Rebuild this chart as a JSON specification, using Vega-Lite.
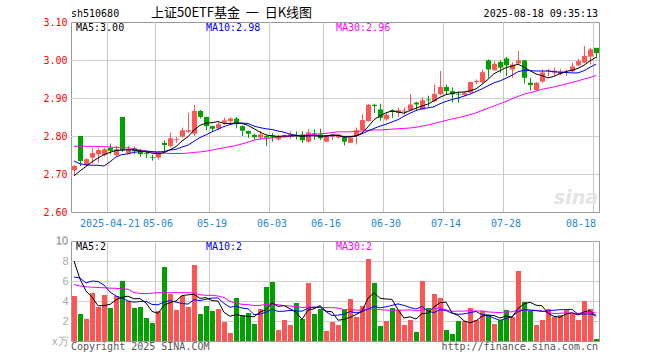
{
"$schema":"https://vega.github.io/schema/vega-lite/v6.json",
"background":"white",
"autosize":{"type":"pad"},
"padding":{"left":33,"top":2,"right":4,"bottom":4},
"bounds":"flush",
"spacing":29,
"config":{"view":{"stroke":"#999","strokeWidth":1},"font":"DejaVu Sans Mono"},
"datasets":{"k":[
{"d":"2025-04-11","o":2.710,"c":2.721,"h":2.724,"l":2.695,"v":4.5,"m5":2.695,"m10":2.734,"m30":2.773,"vm5":8.0,"vm10":6.4,"vm30":5.65},
{"d":"2025-04-14","o":2.800,"c":2.734,"h":2.800,"l":2.721,"v":2.7,"m5":2.708,"m10":2.727,"m30":2.773,"vm5":6.2,"vm10":6.3,"vm30":5.50},
{"d":"2025-04-15","o":2.724,"c":2.739,"h":2.741,"l":2.720,"v":2.2,"m5":2.720,"m10":2.724,"m30":2.773,"vm5":5.0,"vm10":5.8,"vm30":5.42},
{"d":"2025-04-16","o":2.743,"c":2.755,"h":2.768,"l":2.727,"v":4.8,"m5":2.732,"m10":2.723,"m30":2.773,"vm5":4.4,"vm10":6.0,"vm30":5.38},
{"d":"2025-04-17","o":2.752,"c":2.763,"h":2.768,"l":2.730,"v":3.4,"m5":2.742,"m10":2.723,"m30":2.772,"vm5":3.52,"vm10":5.95,"vm30":5.35},
{"d":"2025-04-18","o":2.750,"c":2.765,"h":2.769,"l":2.746,"v":4.6,"m5":2.751,"m10":2.721,"m30":2.772,"vm5":3.54,"vm10":5.6,"vm30":5.32},
{"d":"2025-04-21","o":2.769,"c":2.761,"h":2.780,"l":2.752,"v":3.3,"m5":2.757,"m10":2.732,"m30":2.771,"vm5":3.66,"vm10":4.9,"vm30":5.28},
{"d":"2025-04-22","o":2.750,"c":2.765,"h":2.774,"l":2.747,"v":4.5,"m5":2.762,"m10":2.745,"m30":2.770,"vm5":4.12,"vm10":4.5,"vm30":5.27},
{"d":"2025-04-23","o":2.850,"c":2.762,"h":2.850,"l":2.758,"v":6.0,"m5":2.763,"m10":2.751,"m30":2.769,"vm5":4.36,"vm10":4.3,"vm30":5.22},
{"d":"2025-04-24","o":2.754,"c":2.765,"h":2.774,"l":2.752,"v":4.0,"m5":2.764,"m10":2.753,"m30":2.769,"vm5":4.48,"vm10":4.00,"vm30":5.17},
{"d":"2025-04-25","o":2.768,"c":2.760,"h":2.772,"l":2.752,"v":3.3,"m5":2.763,"m10":2.757,"m30":2.766,"vm5":4.22,"vm10":3.88,"vm30":4.85},
{"d":"2025-04-28","o":2.762,"c":2.752,"h":2.766,"l":2.745,"v":3.4,"m5":2.761,"m10":2.759,"m30":2.763,"vm5":4.24,"vm10":3.95,"vm30":4.75},
{"d":"2025-04-29","o":2.755,"c":2.753,"h":2.758,"l":2.742,"v":2.3,"m5":2.758,"m10":2.760,"m30":2.761,"vm5":3.80,"vm10":3.96,"vm30":4.73},
{"d":"2025-04-30","o":2.745,"c":2.743,"h":2.751,"l":2.735,"v":1.8,"m5":2.755,"m10":2.759,"m30":2.758,"vm5":2.96,"vm10":3.66,"vm30":4.78},
{"d":"2025-05-06","o":2.743,"c":2.756,"h":2.760,"l":2.738,"v":3.0,"m5":2.753,"m10":2.758,"m30":2.756,"vm5":2.76,"vm10":3.62,"vm30":4.83},
{"d":"2025-05-07","o":2.782,"c":2.776,"h":2.789,"l":2.760,"v":7.4,"m5":2.756,"m10":2.759,"m30":2.755,"vm5":3.58,"vm10":3.90,"vm30":4.83},
{"d":"2025-05-08","o":2.774,"c":2.794,"h":2.809,"l":2.770,"v":4.7,"m5":2.764,"m10":2.763,"m30":2.754,"vm5":3.84,"vm10":4.04,"vm30":4.83},
{"d":"2025-05-09","o":2.790,"c":2.792,"h":2.797,"l":2.782,"v":3.1,"m5":2.772,"m10":2.765,"m30":2.754,"vm5":4.00,"vm10":3.90,"vm30":4.83},
{"d":"2025-05-12","o":2.798,"c":2.815,"h":2.822,"l":2.796,"v":4.5,"m5":2.787,"m10":2.771,"m30":2.754,"vm5":4.54,"vm10":3.75,"vm30":4.83},
{"d":"2025-05-13","o":2.811,"c":2.815,"h":2.861,"l":2.808,"v":3.4,"m5":2.798,"m10":2.776,"m30":2.755,"vm5":4.62,"vm10":3.69,"vm30":4.83},
{"d":"2025-05-14","o":2.806,"c":2.866,"h":2.882,"l":2.800,"v":7.6,"m5":2.816,"m10":2.786,"m30":2.757,"vm5":4.66,"vm10":4.12,"vm30":4.80},
{"d":"2025-05-15","o":2.866,"c":2.850,"h":2.868,"l":2.846,"v":2.7,"m5":2.828,"m10":2.796,"m30":2.758,"vm5":4.26,"vm10":4.05,"vm30":4.62},
{"d":"2025-05-16","o":2.850,"c":2.826,"h":2.851,"l":2.815,"v":3.5,"m5":2.834,"m10":2.803,"m30":2.760,"vm5":4.34,"vm10":4.17,"vm30":4.57},
{"d":"2025-05-19","o":2.826,"c":2.819,"h":2.827,"l":2.812,"v":3.0,"m5":2.835,"m10":2.811,"m30":2.763,"vm5":4.04,"vm10":4.29,"vm30":4.57},
{"d":"2025-05-20","o":2.820,"c":2.831,"h":2.836,"l":2.815,"v":3.2,"m5":2.838,"m10":2.818,"m30":2.766,"vm5":4.00,"vm10":4.31,"vm30":4.50},
{"d":"2025-05-21","o":2.835,"c":2.841,"h":2.848,"l":2.830,"v":1.9,"m5":2.833,"m10":2.825,"m30":2.769,"vm5":2.86,"vm10":3.76,"vm30":4.35},
{"d":"2025-05-22","o":2.839,"c":2.846,"h":2.849,"l":2.830,"v":0.8,"m5":2.833,"m10":2.830,"m30":2.772,"vm5":2.48,"vm10":3.37,"vm30":3.95},
{"d":"2025-05-23","o":2.846,"c":2.831,"h":2.850,"l":2.820,"v":4.3,"m5":2.834,"m10":2.834,"m30":2.775,"vm5":2.64,"vm10":3.49,"vm30":3.80},
{"d":"2025-05-26","o":2.826,"c":2.814,"h":2.828,"l":2.800,"v":2.5,"m5":2.833,"m10":2.834,"m30":2.779,"vm5":2.54,"vm10":3.29,"vm30":3.67},
{"d":"2025-05-27","o":2.813,"c":2.806,"h":2.814,"l":2.795,"v":2.8,"m5":2.828,"m10":2.833,"m30":2.784,"vm5":2.46,"vm10":3.23,"vm30":3.64},
{"d":"2025-05-28","o":2.803,"c":2.797,"h":2.806,"l":2.791,"v":1.7,"m5":2.819,"m10":2.826,"m30":2.789,"vm5":2.42,"vm10":2.64,"vm30":3.55},
{"d":"2025-05-29","o":2.796,"c":2.804,"h":2.814,"l":2.790,"v":3.2,"m5":2.810,"m10":2.822,"m30":2.792,"vm5":2.90,"vm10":2.69,"vm30":3.56},
{"d":"2025-05-30","o":2.800,"c":2.796,"h":2.802,"l":2.774,"v":5.4,"m5":2.803,"m10":2.819,"m30":2.794,"vm5":3.12,"vm10":2.88,"vm30":3.67},
{"d":"2025-06-03","o":2.802,"c":2.799,"h":2.808,"l":2.785,"v":5.9,"m5":2.800,"m10":2.817,"m30":2.795,"vm5":3.80,"vm10":3.17,"vm30":3.71},
{"d":"2025-06-04","o":2.791,"c":2.800,"h":2.803,"l":2.788,"v":1.1,"m5":2.799,"m10":2.813,"m30":2.797,"vm5":3.46,"vm10":2.96,"vm30":3.63},
{"d":"2025-06-05","o":2.797,"c":2.802,"h":2.804,"l":2.795,"v":2.1,"m5":2.800,"m10":2.810,"m30":2.798,"vm5":3.54,"vm10":2.98,"vm30":3.55},
{"d":"2025-06-06","o":2.798,"c":2.804,"h":2.812,"l":2.793,"v":1.6,"m5":2.800,"m10":2.805,"m30":2.799,"vm5":3.22,"vm10":3.06,"vm30":3.49},
{"d":"2025-06-09","o":2.803,"c":2.799,"h":2.812,"l":2.791,"v":3.8,"m5":2.801,"m10":2.802,"m30":2.801,"vm5":2.90,"vm10":3.01,"vm30":3.47},
{"d":"2025-06-10","o":2.804,"c":2.789,"h":2.813,"l":2.782,"v":2.2,"m5":2.799,"m10":2.800,"m30":2.801,"vm5":2.16,"vm10":2.98,"vm30":3.34},
{"d":"2025-06-11","o":2.785,"c":2.809,"h":2.818,"l":2.782,"v":5.8,"m5":2.801,"m10":2.800,"m30":2.803,"vm5":3.10,"vm10":3.28,"vm30":3.40},
{"d":"2025-06-12","o":2.808,"c":2.806,"h":2.818,"l":2.790,"v":2.7,"m5":2.801,"m10":2.801,"m30":2.804,"vm5":3.22,"vm10":3.38,"vm30":3.38},
{"d":"2025-06-13","o":2.804,"c":2.794,"h":2.819,"l":2.789,"v":3.2,"m5":2.799,"m10":2.800,"m30":2.806,"vm5":3.54,"vm10":3.38,"vm30":3.37},
{"d":"2025-06-16","o":2.785,"c":2.802,"h":2.803,"l":2.784,"v":1.0,"m5":2.800,"m10":2.800,"m30":2.807,"vm5":2.98,"vm10":2.94,"vm30":3.33},
{"d":"2025-06-17","o":2.798,"c":2.802,"h":2.804,"l":2.790,"v":1.9,"m5":2.803,"m10":2.801,"m30":2.809,"vm5":2.92,"vm10":2.54,"vm30":3.33},
{"d":"2025-06-18","o":2.796,"c":2.804,"h":2.806,"l":2.793,"v":1.6,"m5":2.802,"m10":2.801,"m30":2.811,"vm5":2.08,"vm10":2.59,"vm30":3.29},
{"d":"2025-06-19","o":2.797,"c":2.785,"h":2.800,"l":2.775,"v":3.1,"m5":2.797,"m10":2.799,"m30":2.811,"vm5":2.16,"vm10":2.69,"vm30":3.14},
{"d":"2025-06-20","o":2.782,"c":2.796,"h":2.800,"l":2.782,"v":4.2,"m5":2.798,"m10":2.799,"m30":2.811,"vm5":2.36,"vm10":2.95,"vm30":3.13},
{"d":"2025-06-23","o":2.800,"c":2.815,"h":2.822,"l":2.778,"v":2.4,"m5":2.800,"m10":2.800,"m30":2.812,"vm5":2.64,"vm10":2.81,"vm30":3.10},
{"d":"2025-06-24","o":2.815,"c":2.842,"h":2.857,"l":2.813,"v":3.5,"m5":2.808,"m10":2.806,"m30":2.813,"vm5":2.96,"vm10":2.94,"vm30":3.07},
{"d":"2025-06-25","o":2.839,"c":2.882,"h":2.884,"l":2.838,"v":8.2,"m5":2.824,"m10":2.813,"m30":2.815,"vm5":4.28,"vm10":3.18,"vm30":3.23},
{"d":"2025-06-26","o":2.882,"c":2.879,"h":2.885,"l":2.860,"v":5.8,"m5":2.843,"m10":2.820,"m30":2.816,"vm5":4.82,"vm10":3.49,"vm30":3.17},
{"d":"2025-06-27","o":2.870,"c":2.848,"h":2.885,"l":2.840,"v":1.5,"m5":2.853,"m10":2.826,"m30":2.816,"vm5":4.28,"vm10":3.32,"vm30":3.13},
{"d":"2025-06-30","o":2.844,"c":2.856,"h":2.862,"l":2.840,"v":2.0,"m5":2.861,"m10":2.831,"m30":2.817,"vm5":4.20,"vm10":3.42,"vm30":3.08},
{"d":"2025-07-01","o":2.868,"c":2.863,"h":2.870,"l":2.848,"v":3.3,"m5":2.866,"m10":2.837,"m30":2.818,"vm5":4.16,"vm10":3.56,"vm30":3.09},
{"d":"2025-07-02","o":2.861,"c":2.868,"h":2.875,"l":2.850,"v":3.1,"m5":2.863,"m10":2.843,"m30":2.819,"vm5":3.14,"vm10":3.71,"vm30":3.09},
{"d":"2025-07-03","o":2.864,"c":2.867,"h":2.875,"l":2.856,"v":1.6,"m5":2.860,"m10":2.852,"m30":2.820,"vm5":2.30,"vm10":3.56,"vm30":3.08},
{"d":"2025-07-04","o":2.868,"c":2.883,"h":2.910,"l":2.866,"v":2.1,"m5":2.867,"m10":2.860,"m30":2.821,"vm5":2.42,"vm10":3.35,"vm30":3.12},
{"d":"2025-07-07","o":2.888,"c":2.883,"h":2.890,"l":2.868,"v":0.9,"m5":2.873,"m10":2.867,"m30":2.823,"vm5":2.20,"vm10":3.20,"vm30":3.01},
{"d":"2025-07-08","o":2.870,"c":2.894,"h":2.902,"l":2.868,"v":6.0,"m5":2.879,"m10":2.872,"m30":2.826,"vm5":2.74,"vm10":3.45,"vm30":3.12},
{"d":"2025-07-09","o":2.896,"c":2.894,"h":2.906,"l":2.877,"v":3.3,"m5":2.884,"m10":2.874,"m30":2.829,"vm5":2.78,"vm10":2.96,"vm30":3.14},
{"d":"2025-07-10","o":2.892,"c":2.911,"h":2.936,"l":2.888,"v":4.7,"m5":2.893,"m10":2.877,"m30":2.833,"vm5":3.40,"vm10":2.85,"vm30":3.24},
{"d":"2025-07-11","o":2.910,"c":2.929,"h":2.971,"l":2.908,"v":4.3,"m5":2.902,"m10":2.885,"m30":2.837,"vm5":3.84,"vm10":3.13,"vm30":3.28},
{"d":"2025-07-14","o":2.929,"c":2.918,"h":2.935,"l":2.910,"v":1.1,"m5":2.909,"m10":2.891,"m30":2.841,"vm5":3.88,"vm10":3.04,"vm30":3.13},
{"d":"2025-07-15","o":2.918,"c":2.910,"h":2.928,"l":2.888,"v":0.7,"m5":2.912,"m10":2.896,"m30":2.845,"vm5":2.82,"vm10":2.78,"vm30":2.96},
{"d":"2025-07-16","o":2.911,"c":2.909,"h":2.917,"l":2.888,"v":2.0,"m5":2.915,"m10":2.900,"m30":2.848,"vm5":2.56,"vm10":2.67,"vm30":2.99},
{"d":"2025-07-17","o":2.908,"c":2.914,"h":2.916,"l":2.906,"v":2.0,"m5":2.916,"m10":2.905,"m30":2.852,"vm5":2.02,"vm10":2.71,"vm30":2.99},
{"d":"2025-07-18","o":2.914,"c":2.942,"h":2.943,"l":2.912,"v":3.3,"m5":2.919,"m10":2.910,"m30":2.856,"vm5":1.82,"vm10":2.83,"vm30":3.04},
{"d":"2025-07-21","o":2.942,"c":2.945,"h":2.949,"l":2.937,"v":2.1,"m5":2.924,"m10":2.917,"m30":2.861,"vm5":2.02,"vm10":2.95,"vm30":2.99},
{"d":"2025-07-22","o":2.942,"c":2.968,"h":2.975,"l":2.938,"v":3.0,"m5":2.936,"m10":2.924,"m30":2.867,"vm5":2.48,"vm10":2.65,"vm30":3.01},
{"d":"2025-07-23","o":2.999,"c":2.975,"h":3.002,"l":2.953,"v":2.6,"m5":2.949,"m10":2.932,"m30":2.873,"vm5":2.60,"vm10":2.58,"vm30":2.91},
{"d":"2025-07-24","o":2.973,"c":2.990,"h":2.997,"l":2.972,"v":1.7,"m5":2.964,"m10":2.940,"m30":2.879,"vm5":2.54,"vm10":2.28,"vm30":2.87},
{"d":"2025-07-25","o":2.995,"c":2.980,"h":3.000,"l":2.966,"v":2.1,"m5":2.972,"m10":2.945,"m30":2.885,"vm5":2.30,"vm10":2.06,"vm30":2.84},
{"d":"2025-07-28","o":3.004,"c":2.986,"h":3.008,"l":2.958,"v":3.1,"m5":2.980,"m10":2.952,"m30":2.891,"vm5":2.50,"vm10":2.26,"vm30":2.91},
{"d":"2025-07-29","o":2.975,"c":2.988,"h":2.994,"l":2.953,"v":2.4,"m5":2.984,"m10":2.960,"m30":2.898,"vm5":2.38,"vm10":2.43,"vm30":2.92},
{"d":"2025-07-30","o":2.991,"c":2.999,"h":3.024,"l":2.990,"v":7.0,"m5":2.989,"m10":2.969,"m30":2.904,"vm5":3.26,"vm10":2.93,"vm30":3.10},
{"d":"2025-07-31","o":2.999,"c":2.953,"h":3.000,"l":2.938,"v":3.9,"m5":2.981,"m10":2.973,"m30":2.910,"vm5":3.70,"vm10":3.12,"vm30":3.13},
{"d":"2025-08-01","o":2.940,"c":2.934,"h":2.953,"l":2.920,"v":3.0,"m5":2.972,"m10":2.972,"m30":2.914,"vm5":3.88,"vm10":3.09,"vm30":3.09},
{"d":"2025-08-04","o":2.921,"c":2.940,"h":2.942,"l":2.919,"v":1.6,"m5":2.963,"m10":2.971,"m30":2.918,"vm5":3.58,"vm10":3.04,"vm30":3.06},
{"d":"2025-08-05","o":2.943,"c":2.967,"h":2.975,"l":2.940,"v":2.1,"m5":2.959,"m10":2.971,"m30":2.923,"vm5":3.52,"vm10":2.95,"vm30":3.02},
{"d":"2025-08-06","o":2.970,"c":2.973,"h":2.977,"l":2.958,"v":3.2,"m5":2.953,"m10":2.971,"m30":2.926,"vm5":2.76,"vm10":3.01,"vm30":2.85},
{"d":"2025-08-07","o":2.967,"c":2.972,"h":2.980,"l":2.958,"v":2.4,"m5":2.957,"m10":2.969,"m30":2.929,"vm5":2.46,"vm10":3.08,"vm30":2.74},
{"d":"2025-08-08","o":2.963,"c":2.970,"h":2.977,"l":2.960,"v":2.6,"m5":2.964,"m10":2.968,"m30":2.933,"vm5":2.38,"vm10":3.13,"vm30":2.77},
{"d":"2025-08-11","o":2.967,"c":2.969,"h":2.975,"l":2.958,"v":3.2,"m5":2.970,"m10":2.967,"m30":2.937,"vm5":2.70,"vm10":3.14,"vm30":2.81},
{"d":"2025-08-12","o":2.970,"c":2.983,"h":2.993,"l":2.968,"v":2.7,"m5":2.973,"m10":2.966,"m30":2.941,"vm5":2.82,"vm10":3.17,"vm30":2.79},
{"d":"2025-08-13","o":2.986,"c":2.997,"h":3.003,"l":2.983,"v":2.1,"m5":2.978,"m10":2.966,"m30":2.945,"vm5":2.60,"vm10":2.68,"vm30":2.76},
{"d":"2025-08-14","o":2.993,"c":3.011,"h":3.037,"l":2.993,"v":4.0,"m5":2.986,"m10":2.972,"m30":2.950,"vm5":2.92,"vm10":2.69,"vm30":2.84},
{"d":"2025-08-15","o":3.009,"c":3.028,"h":3.032,"l":2.989,"v":3.2,"m5":2.998,"m10":2.981,"m30":2.954,"vm5":3.04,"vm10":2.71,"vm30":2.88},
{"d":"2025-08-18","o":3.032,"c":3.018,"h":3.032,"l":3.004,"v":0.2,"m5":3.007,"m10":2.989,"m30":2.959,"vm5":2.44,"vm10":2.57,"vm30":2.80}
],
"vg":[{"g":"2025-04-21"},{"g":"2025-05-06"},{"g":"2025-05-19"},{"g":"2025-06-03"},{"g":"2025-06-16"},{"g":"2025-06-30"},{"g":"2025-07-14"},{"g":"2025-07-28"},{"g":"2025-08-18"}],
"hp":[{"g":2.7},{"g":2.8},{"g":2.9},{"g":3.0}],
"hv":[{"g":2},{"g":4},{"g":6},{"g":8}]
},
"vconcat":[
{
"width":528,"height":190,
"resolve":{"axis":{"x":"independent","y":"independent"}},
"layer":[
{"data":{"name":"hp"},"mark":{"type":"rule","color":"#cfcfcf","strokeWidth":1,"yOffset":0.5},
 "encoding":{"y":{"field":"g","type":"quantitative","scale":{"domain":[2.6,3.1],"nice":false,"zero":false},"axis":null}}},
{"data":{"name":"vg"},"mark":{"type":"rule","color":"#c8c8c8","strokeWidth":1,"xOffset":-2.5},
 "encoding":{"x":{"field":"g","type":"ordinal","scale":{"type":"band","paddingInner":0,"paddingOuter":0},"axis":null}}},
{"data":{"name":"k"},"mark":{"type":"rule","strokeWidth":1,"xOffset":0.5},
 "encoding":{
  "x":{"field":"d","type":"ordinal","scale":{"type":"band","paddingInner":0,"paddingOuter":0},
   "axis":{"values":["2025-04-21","2025-05-06","2025-05-19","2025-06-03","2025-06-16","2025-06-30","2025-07-14","2025-07-28","2025-08-18"],
    "bandPosition":0,"labelExpr":"datum.value == '2025-04-21' ? datum.value : slice(datum.value, 5)",
    "labelAlign":{"condition":{"test":"datum.value == '2025-08-18'","value":"right"},"value":"center"},
    "labelAngle":0,"labelOverlap":false,"labelBound":false,"labelFlush":false,"ticks":false,"domain":false,
    "grid":false,"labelColor":"#1e88d0","labelFont":"DejaVu Sans Mono","labelFontSize":10,"labelPadding":6,"title":null}},
  "y":{"field":"l","type":"quantitative","scale":{"domain":[2.6,3.1],"nice":false,"zero":false},
   "axis":{"values":[2.6,2.7,2.8,2.9,3.0,3.1],"format":".2f","labelColor":"#ff0000","labelFont":"DejaVu Sans Mono","labelFontSize":10,"labelOverlap":false,"labelBound":false,"labelFlush":false,"ticks":false,"domain":false,"grid":false,"labelPadding":4,"title":null}},
  "y2":{"field":"h"},
  "color":{"condition":{"test":"datum.c >= datum.o","value":"#ff5555"},"value":"#00a000"}}},
{"data":{"name":"k"},"mark":{"type":"bar","width":5,"xOffset":0.5},
 "encoding":{"x":{"field":"d","type":"ordinal","scale":{"type":"band","paddingInner":0,"paddingOuter":0},"axis":null},
  "y":{"field":"o","type":"quantitative","scale":{"domain":[2.6,3.1],"nice":false,"zero":false},"axis":null},
  "y2":{"field":"c"},
  "color":{"condition":{"test":"datum.c >= datum.o","value":"#ff5555"},"value":"#00a000"}}},
{"data":{"name":"k"},"mark":{"type":"line","color":"#ff00ff","strokeWidth":1},
 "encoding":{"x":{"field":"d","type":"ordinal","scale":{"type":"band","paddingInner":0,"paddingOuter":0},"axis":null},
  "y":{"field":"m30","type":"quantitative","scale":{"domain":[2.6,3.1],"nice":false,"zero":false},"axis":null}}},
{"data":{"name":"k"},"mark":{"type":"line","color":"#0000ff","strokeWidth":1},
 "encoding":{"x":{"field":"d","type":"ordinal","scale":{"type":"band","paddingInner":0,"paddingOuter":0},"axis":null},
  "y":{"field":"m10","type":"quantitative","scale":{"domain":[2.6,3.1],"nice":false,"zero":false},"axis":null}}},
{"data":{"name":"k"},"mark":{"type":"line","color":"#000000","strokeWidth":1},
 "encoding":{"x":{"field":"d","type":"ordinal","scale":{"type":"band","paddingInner":0,"paddingOuter":0},"axis":null},
  "y":{"field":"m5","type":"quantitative","scale":{"domain":[2.6,3.1],"nice":false,"zero":false},"axis":null}}},
{"data":{"values":[{}]},"mark":{"type":"text","align":"left","baseline":"top","fontSize":10,"opacity":0,"dx":-40},
 "encoding":{"x":{"datum":"2025-04-11","type":"ordinal","axis":null},"y":{"datum":3.15,"type":"quantitative","axis":null},"text":{"value":"."}}},
{"data":{"values":[{}]},"mark":{"type":"text","align":"right","baseline":"middle","font":"DejaVu Sans","fontStyle":"italic","fontWeight":"bold","fontSize":19,"color":"#e4e4e4","dx":2},
 "encoding":{"x":{"datum":"2025-08-18","type":"ordinal","axis":null},"y":{"datum":2.637,"type":"quantitative","axis":null},"text":{"value":"sina"}}},
{"data":{"values":[{}]},"mark":{"type":"text","align":"left","baseline":"middle","font":"DejaVu Sans Mono","fontSize":10,"color":"#000000","dx":-3},
 "encoding":{"x":{"datum":"2025-04-11","type":"ordinal","axis":null},"y":{"datum":3.121,"type":"quantitative","axis":null},"text":{"value":"sh510680"}}},
{"data":{"values":[{}]},"mark":{"type":"text","align":"left","baseline":"middle","font":"Noto Sans CJK SC","fontSize":13,"color":"#000000","dx":-1},
 "encoding":{"x":{"datum":"2025-04-30","type":"ordinal","axis":null},"y":{"datum":3.123,"type":"quantitative","axis":null},"text":{"value":"上证50ETF基金\u00a0\u00a0一\u00a0\u00a0日K线图"}}},
{"data":{"values":[{}]},"mark":{"type":"text","align":"right","baseline":"middle","font":"DejaVu Sans Mono","fontSize":10,"color":"#000000","dx":2},
 "encoding":{"x":{"datum":"2025-08-18","type":"ordinal","axis":null},"y":{"datum":3.121,"type":"quantitative","axis":null},"text":{"value":"2025-08-18 09:35:13"}}},
{"data":{"values":[{}]},"mark":{"type":"text","align":"left","baseline":"middle","font":"DejaVu Sans Mono","fontSize":10,"color":"#000000","dx":2},
 "encoding":{"x":{"datum":"2025-04-11","type":"ordinal","axis":null},"y":{"datum":3.0855,"type":"quantitative","axis":null},"text":{"value":"MA5:3.00"}}},
{"data":{"values":[{}]},"mark":{"type":"text","align":"left","baseline":"middle","font":"DejaVu Sans Mono","fontSize":10,"color":"#0000ff","dx":0},
 "encoding":{"x":{"datum":"2025-05-16","type":"ordinal","axis":null},"y":{"datum":3.0855,"type":"quantitative","axis":null},"text":{"value":"MA10:2.98"}}},
{"data":{"values":[{}]},"mark":{"type":"text","align":"left","baseline":"middle","font":"DejaVu Sans Mono","fontSize":10,"color":"#ff00ff","dx":-2},
 "encoding":{"x":{"datum":"2025-06-18","type":"ordinal","axis":null},"y":{"datum":3.0855,"type":"quantitative","axis":null},"text":{"value":"MA30:2.96"}}}
]
},
{
"width":528,"height":100,
"resolve":{"axis":{"x":"independent","y":"independent"}},
"layer":[
{"data":{"name":"hv"},"mark":{"type":"rule","color":"#cfcfcf","strokeWidth":1,"yOffset":0.5},
 "encoding":{"y":{"field":"g","type":"quantitative","scale":{"domain":[0,10],"nice":false},"axis":null}}},
{"data":{"name":"vg"},"mark":{"type":"rule","color":"#c8c8c8","strokeWidth":1,"xOffset":-2.5},
 "encoding":{"x":{"field":"g","type":"ordinal","scale":{"type":"band","paddingInner":0,"paddingOuter":0},"axis":null}}},
{"data":{"name":"k"},"mark":{"type":"bar","width":5,"xOffset":0.5},
 "encoding":{
  "x":{"field":"d","type":"ordinal","scale":{"type":"band","paddingInner":0,"paddingOuter":0},"axis":null},
  "y":{"field":"v","type":"quantitative","scale":{"domain":[0,10],"nice":false},
   "axis":{"values":[0,2,4,6,8,10],"labelExpr":"datum.value == 0 ? 'x万' : datum.label","labelColor":"#aaaaaa","labelFont":"Liberation Sans","labelFontSize":11,"labelOverlap":false,"labelBound":false,"labelFlush":false,"ticks":false,"domain":false,"grid":false,"labelPadding":3,"title":null}},
  "color":{"condition":{"test":"datum.c >= datum.o","value":"#ff5555"},"value":"#00a000"}}},
{"data":{"name":"k"},"mark":{"type":"line","color":"#ff00ff","strokeWidth":1},
 "encoding":{"x":{"field":"d","type":"ordinal","scale":{"type":"band","paddingInner":0,"paddingOuter":0},"axis":null},
  "y":{"field":"vm30","type":"quantitative","scale":{"domain":[0,10],"nice":false},"axis":null}}},
{"data":{"name":"k"},"mark":{"type":"line","color":"#0000ff","strokeWidth":1},
 "encoding":{"x":{"field":"d","type":"ordinal","scale":{"type":"band","paddingInner":0,"paddingOuter":0},"axis":null},
  "y":{"field":"vm10","type":"quantitative","scale":{"domain":[0,10],"nice":false},"axis":null}}},
{"data":{"name":"k"},"mark":{"type":"line","color":"#000000","strokeWidth":1},
 "encoding":{"x":{"field":"d","type":"ordinal","scale":{"type":"band","paddingInner":0,"paddingOuter":0},"axis":null},
  "y":{"field":"vm5","type":"quantitative","scale":{"domain":[0,10],"nice":false},"axis":null}}},
{"data":{"values":[{}]},"mark":{"type":"text","align":"right","baseline":"middle","font":"Liberation Sans","fontSize":11,"color":"#aaaaaa","dx":-6},
 "encoding":{"x":{"datum":"2025-04-11","type":"ordinal","axis":null},"y":{"datum":10,"type":"quantitative","axis":null},"text":{"value":"10"}}},
{"data":{"values":[{}]},"mark":{"type":"text","align":"left","baseline":"middle","font":"DejaVu Sans Mono","fontSize":10,"color":"#000000","dx":2},
 "encoding":{"x":{"datum":"2025-04-11","type":"ordinal","axis":null},"y":{"datum":9.4,"type":"quantitative","axis":null},"text":{"value":"MA5:2"}}},
{"data":{"values":[{}]},"mark":{"type":"text","align":"left","baseline":"middle","font":"DejaVu Sans Mono","fontSize":10,"color":"#0000ff","dx":0},
 "encoding":{"x":{"datum":"2025-05-16","type":"ordinal","axis":null},"y":{"datum":9.4,"type":"quantitative","axis":null},"text":{"value":"MA10:2"}}},
{"data":{"values":[{}]},"mark":{"type":"text","align":"left","baseline":"middle","font":"DejaVu Sans Mono","fontSize":10,"color":"#ff00ff","dx":-2},
 "encoding":{"x":{"datum":"2025-06-18","type":"ordinal","axis":null},"y":{"datum":9.4,"type":"quantitative","axis":null},"text":{"value":"MA30:2"}}},
{"data":{"values":[{}]},"mark":{"type":"text","align":"left","baseline":"middle","font":"DejaVu Sans Mono","fontSize":10,"color":"#555555","dx":-3},
 "encoding":{"x":{"datum":"2025-04-11","type":"ordinal","axis":null},"y":{"datum":-0.55,"type":"quantitative","axis":null},"text":{"value":"Copyright 2025 SINA.COM"}}},
{"data":{"values":[{}]},"mark":{"type":"text","align":"right","baseline":"middle","font":"DejaVu Sans Mono","fontSize":10,"color":"#555555","dx":2},
 "encoding":{"x":{"datum":"2025-08-18","type":"ordinal","axis":null},"y":{"datum":-0.55,"type":"quantitative","axis":null},"text":{"value":"http://finance.sina.com.cn"}}}
]
}
]
}
